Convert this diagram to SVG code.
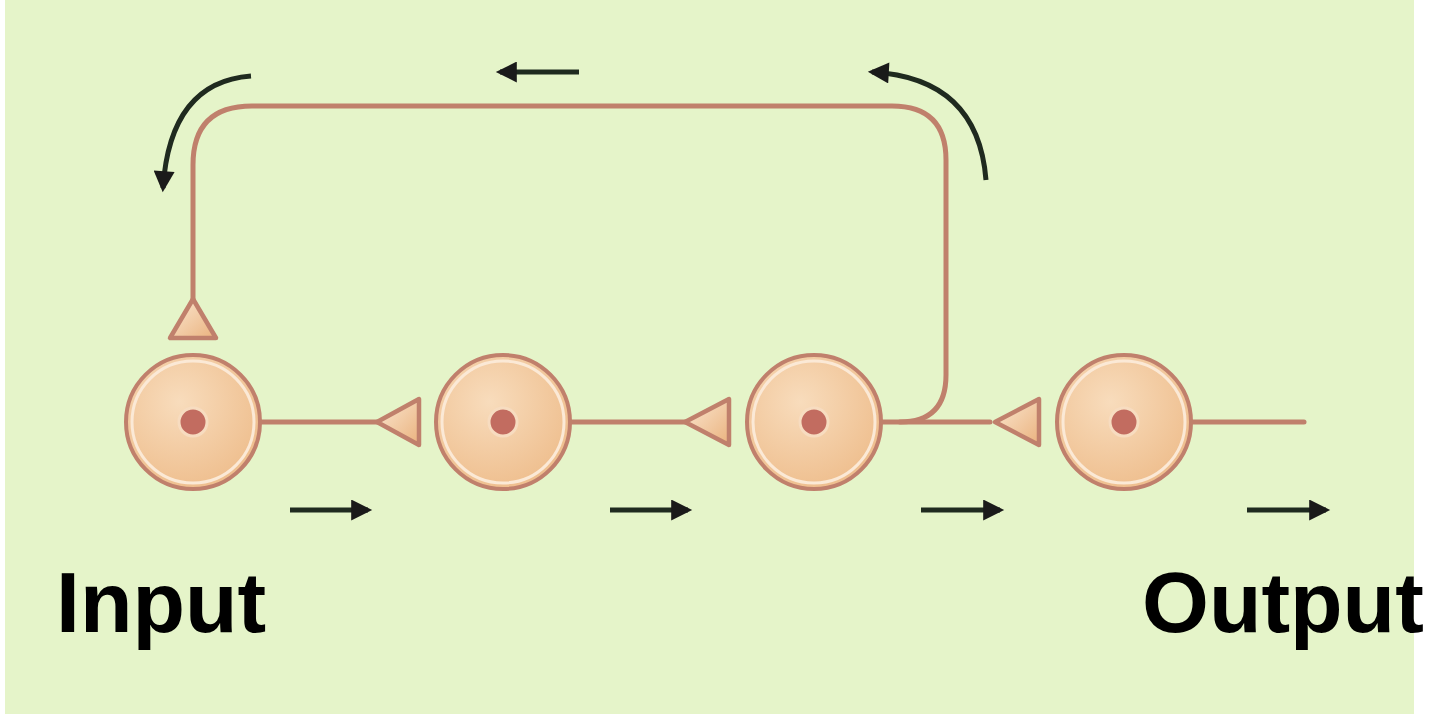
<svg xmlns="http://www.w3.org/2000/svg" width="1440" height="714" viewBox="0 0 1440 714">
<defs>
<radialGradient id="cell" cx="40%" cy="35%" r="70%">
<stop offset="0" stop-color="#f8dcbc"/>
<stop offset="1" stop-color="#eebd8c"/>
</radialGradient>
<marker id="ah" viewBox="0 0 10 10" refX="8" refY="5" markerWidth="5" markerHeight="4.2" orient="auto" markerUnits="strokeWidth">
<path d="M0,0 L10,5 L0,10 z" fill="#1a1a1a"/>
</marker>
<linearGradient id="syn" x1="0" y1="0" x2="1" y2="1">
<stop offset="0" stop-color="#fbe8d2"/>
<stop offset="1" stop-color="#eab27e"/>
</linearGradient>
</defs>
<style>
.cellbody{fill:url(#cell);stroke:#c0806c;stroke-width:4}
.hl{fill:none;stroke:#fbe9d6;stroke-width:3}
.nuc{fill:#c26c60;stroke:#f7dcc0;stroke-width:3}
.axon{fill:none;stroke:#c0806c;stroke-width:5;stroke-linecap:round;stroke-linejoin:round}
.syn{fill:url(#syn);stroke:#c0806c;stroke-width:4.5;stroke-linejoin:round}
.arr{fill:none;stroke:#1f2a1f;stroke-width:5;marker-end:url(#ah)}
.lbl{font-family:"Liberation Sans",Arial,sans-serif;font-weight:bold;font-size:86px;fill:#000}
</style>
<rect x="0" y="0" width="1440" height="714" fill="#ffffff"/>
<rect x="5" y="0" width="1409" height="714" fill="#e5f4c9"/>

<g id="connectors">
<path class="axon" d="M258 422 H380"/>
<path class="axon" d="M568 422 H688"/>
<path class="axon" d="M880 422 H990"/>
<path class="axon" d="M1190 422 H1304"/>
<path class="axon" d="M900 422 Q946 422 946 375 V160 Q946 106 892 106 H252 Q193 106 193 165 V305"/>
<polygon class="syn" points="377,422 419,399 419,445"/>
<polygon class="syn" points="685,422 729,399 729,445"/>
<polygon class="syn" points="995,422 1039,399 1039,445"/>
<polygon class="syn" points="193,299 170,338 216,338"/>
<path class="arr" d="M290 510 H368"/>
<path class="arr" d="M610 510 H688"/>
<path class="arr" d="M921 510 H1000"/>
<path class="arr" d="M1247 510 H1326"/>
<path class="arr" d="M579 72 H500"/>
<path class="arr" d="M251 76 Q170 82 163 188"/>
<path class="arr" d="M986 180 Q978 78 872 72"/>
</g>

<g id="n1"><circle class="cellbody" cx="193" cy="422" r="67"/><circle class="hl" cx="193" cy="422" r="61"/><circle class="nuc" cx="193" cy="422" r="14"/></g>
<g id="n2"><circle class="cellbody" cx="503" cy="422" r="67"/><circle class="hl" cx="503" cy="422" r="61"/><circle class="nuc" cx="503" cy="422" r="14"/></g>
<g id="n3"><circle class="cellbody" cx="814" cy="422" r="67"/><circle class="hl" cx="814" cy="422" r="61"/><circle class="nuc" cx="814" cy="422" r="14"/></g>
<g id="n4"><circle class="cellbody" cx="1124" cy="422" r="67"/><circle class="hl" cx="1124" cy="422" r="61"/><circle class="nuc" cx="1124" cy="422" r="14"/></g>

<g id="labels">
<text class="lbl" x="56" y="632">Input</text>
<text class="lbl" x="1142" y="632">Output</text>
</g>
</svg>
